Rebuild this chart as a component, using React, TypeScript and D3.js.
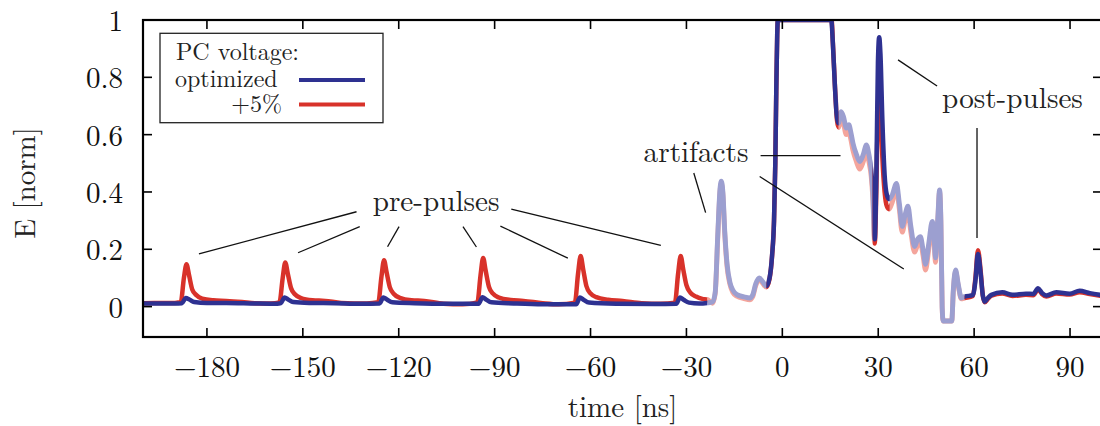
import React from "react";
import * as d3 from "d3";

// ---------- data (time in ns, E normalized) ----------
const prePulseOptimized: [number, number][] = [
  [-200, 0.011], [-190, 0.011], [-187.8, 0.012], [-186.6, 0.03], [-185.5, 0.025], [-184, 0.016], [-180, 0.013],
  [-174, 0.013], [-165, 0.011], [-158, 0.01], [-156.9, 0.012], [-155.7, 0.032], [-154.6, 0.025], [-153, 0.016],
  [-148, 0.013], [-140, 0.012], [-132, 0.01], [-126, 0.011], [-124.8, 0.032], [-123.7, 0.025], [-122, 0.015],
  [-115, 0.012], [-105, 0.01], [-95, 0.01], [-93.8, 0.033], [-92.7, 0.025], [-91, 0.015], [-84, 0.011],
  [-75, 0.008], [-64.5, 0.008], [-63.3, 0.032], [-62.2, 0.024], [-60.5, 0.014], [-52, 0.01], [-40, 0.009],
  [-33.2, 0.01], [-32, 0.032], [-30.9, 0.024], [-29.2, 0.014], [-26, 0.011],
];

const prePulsePlus5: [number, number][] = [
  [-200, 0.012], [-190, 0.013], [-188.2, 0.015], [-187.2, 0.1], [-186.4, 0.148], [-185.6, 0.11], [-184.6, 0.06],
  [-183.3, 0.04], [-181.5, 0.028], [-178, 0.022], [-174, 0.02], [-169, 0.016], [-165, 0.012], [-160, 0.011],
  [-157.3, 0.015], [-156.3, 0.1], [-155.5, 0.154], [-154.7, 0.115], [-153.7, 0.065], [-152.4, 0.042],
  [-150.6, 0.03], [-147, 0.022], [-143, 0.02], [-138, 0.013], [-130, 0.011], [-126.4, 0.015], [-125.4, 0.105],
  [-124.6, 0.162], [-123.8, 0.12], [-122.8, 0.068], [-121.5, 0.044], [-119.7, 0.031], [-116, 0.022],
  [-112, 0.02], [-106, 0.01], [-100, 0.008], [-95.4, 0.015], [-94.4, 0.11], [-93.6, 0.17], [-92.8, 0.125],
  [-91.8, 0.07], [-90.5, 0.045], [-88.7, 0.032], [-85, 0.023], [-81, 0.02], [-75, 0.012], [-70, 0.008],
  [-64.9, 0.014], [-63.9, 0.115], [-63.1, 0.177], [-62.3, 0.13], [-61.3, 0.072], [-60, 0.046], [-58.2, 0.033],
  [-54.5, 0.024], [-50, 0.02], [-44, 0.012], [-38, 0.01], [-33.6, 0.014], [-32.6, 0.115], [-31.8, 0.177],
  [-31, 0.13], [-30, 0.075], [-28.7, 0.048], [-27, 0.035], [-25, 0.027],
];

const mainOptimized: [number, number][] = [
  [-23.5, 0.013], [-21.8, 0.016], [-21.0, 0.05], [-20.2, 0.25], [-19.5, 0.41], [-19.1, 0.438], [-18.6, 0.4],
  [-18.0, 0.26], [-17.3, 0.15], [-16.4, 0.085], [-15.5, 0.058], [-14.2, 0.042], [-12, 0.034], [-10.2, 0.03],
  [-9.3, 0.04], [-8.3, 0.08], [-7.2, 0.1], [-6.2, 0.088], [-5.0, 0.072], [-4.0, 0.1], [-3.2, 0.18], [-2.6, 0.3],
  [-2.2, 0.5], [-1.9, 0.75], [-1.6, 0.95], [-1.4, 1.0], [15.3, 1.0], [15.8, 0.92], [16.4, 0.78], [17.0, 0.67],
  [17.6, 0.64], [18.4, 0.68], [19.2, 0.66], [20.0, 0.623], [20.8, 0.635], [21.4, 0.61], [22.1, 0.57],
  [23.2, 0.53], [24.2, 0.506], [25.3, 0.53], [26.3, 0.564], [27.1, 0.53], [27.8, 0.477], [28.3, 0.4],
  [28.9, 0.235], [29.4, 0.45], [29.9, 0.85], [30.3, 0.94], [30.7, 0.88], [31.3, 0.65], [32.0, 0.46],
  [32.7, 0.39], [33.4, 0.375], [34.4, 0.39], [35.7, 0.43], [36.6, 0.36], [37.5, 0.28], [38.4, 0.32],
  [39.3, 0.35], [40.2, 0.28], [41.4, 0.21], [42.3, 0.235], [43.2, 0.244], [44.0, 0.2], [44.8, 0.148],
  [45.8, 0.22], [46.9, 0.297], [47.5, 0.24], [47.9, 0.17], [48.6, 0.3], [49.2, 0.407], [49.6, 0.3],
  [50.0, 0.0], [50.3, -0.05], [53.0, -0.05], [53.5, 0.06], [54.2, 0.128], [55.0, 0.08], [56.0, 0.03],
  [57.0, 0.035], [59.6, 0.04], [60.4, 0.09], [61.2, 0.184], [62.0, 0.12], [62.7, 0.04], [63.3, 0.017],
  [64.3, 0.03], [65.4, 0.041], [68.8, 0.05], [72, 0.041], [76.2, 0.045], [78.5, 0.044], [80, 0.064],
  [81.2, 0.048], [82.6, 0.039], [85.7, 0.05], [89.9, 0.045], [93, 0.055], [96.2, 0.047], [100, 0.04],
];

const mainPlus5: [number, number][] = [
  [-23.5, 0.025], [-21.8, 0.012], [-21.0, 0.045], [-20.2, 0.24], [-19.5, 0.4], [-19.1, 0.43], [-18.6, 0.39],
  [-18.0, 0.25], [-17.3, 0.14], [-16.4, 0.078], [-15.5, 0.05], [-14.2, 0.036], [-12, 0.028], [-10.2, 0.024],
  [-9.3, 0.034], [-8.3, 0.074], [-7.2, 0.094], [-6.2, 0.082], [-5.0, 0.068], [-4.0, 0.097], [-3.2, 0.178],
  [-2.6, 0.3], [-2.2, 0.5], [-1.9, 0.75], [-1.6, 0.95], [-1.4, 1.0], [15.4, 1.0], [15.9, 0.9], [16.5, 0.76],
  [17.1, 0.65], [17.6, 0.625], [18.4, 0.655], [19.2, 0.635], [20.0, 0.6], [20.8, 0.61], [21.4, 0.585],
  [22.1, 0.545], [23.2, 0.505], [24.2, 0.48], [25.3, 0.505], [26.3, 0.54], [27.1, 0.505], [27.8, 0.455],
  [28.3, 0.38], [28.9, 0.22], [29.4, 0.4], [29.9, 0.7], [30.3, 0.76], [30.7, 0.7], [31.3, 0.52], [32.0, 0.4],
  [32.7, 0.35], [33.4, 0.34], [34.4, 0.365], [35.7, 0.41], [36.6, 0.34], [37.5, 0.26], [38.4, 0.3],
  [39.3, 0.33], [40.2, 0.26], [41.4, 0.19], [42.3, 0.215], [43.2, 0.225], [44.0, 0.18], [44.8, 0.128],
  [45.8, 0.2], [46.9, 0.277], [47.5, 0.22], [47.9, 0.155], [48.6, 0.29], [49.2, 0.4], [49.6, 0.29],
  [50.0, -0.005], [50.3, -0.05], [53.0, -0.05], [53.5, 0.055], [54.2, 0.122], [55.0, 0.075], [56.0, 0.027],
  [57.0, 0.03], [59.6, 0.037], [60.4, 0.1], [61.2, 0.197], [62.0, 0.13], [62.7, 0.04], [63.3, 0.015],
  [64.3, 0.027], [65.4, 0.038], [68.8, 0.046], [72, 0.037], [76.2, 0.041], [78.5, 0.04], [80, 0.06],
  [81.2, 0.044], [82.6, 0.035], [85.7, 0.046], [89.9, 0.042], [93, 0.05], [96.2, 0.044], [100, 0.037],
];

// time ranges drawn in full colour (rest is drawn faded: artifacts)
const darkRanges: [number, number][] = [[-200, -23.5], [-5.0, 17.6], [28.2, 33.6], [57.0, 100]];

const xTicks = [-180, -150, -120, -90, -60, -30, 0, 30, 60, 90];
const yTicks = [0, 0.2, 0.4, 0.6, 0.8, 1];
const yTickLabels = ["0", "0.2", "0.4", "0.6", "0.8", "1"];

const seriesNames = ["optimized", "+5%"];

// annotation leader lines in data coordinates [t1, v1, t2, v2]
const prePulseLeaders: [number, number, number, number][] = [
  [-182.5, 0.184, -133.2, 0.331],
  [-151.5, 0.188, -132.2, 0.279],
  [-123.5, 0.209, -119.9, 0.279],
  [-99.9, 0.279, -95.7, 0.208],
  [-88.2, 0.281, -67.1, 0.169],
  [-84.8, 0.34, -38.0, 0.214],
];
const artifactLeaders: [number, number, number, number][] = [
  [-6.8, 0.527, 18.2, 0.527],
  [-27.7, 0.466, -24.0, 0.328],
  [-7.1, 0.454, 38.0, 0.131],
];
const postPulseLeaders: [number, number, number, number][] = [
  [36.2, 0.861, 48.4, 0.77],
  [60.9, 0.623, 60.9, 0.239],
];
const annotations = [
  { text: "pre-pulses", t: -108.3, v: 0.332 },
  { text: "artifacts", t: -27.0, v: 0.506 },
  { text: "post-pulses", t: 72.0, v: 0.692 },
];

// ---------- layout ----------
const W = 1100, H = 426;
const L = 143, R = 1102, T = 20, B = 337;
const BLUE = "#2e3191", RED = "#d8322a", BLUE_L = "#9c9fd0", RED_L = "#f4a59c";
const FONT = '"Latin Modern Roman", "Liberation Serif", serif';

export default function App() {
  const x = d3.scaleLinear().domain([-200, 100]).range([L, R]);
  const y = d3.scaleLinear().domain([-0.106, 1]).range([B, T]);
  const line = d3.line<[number, number]>().x(d => x(d[0])).y(d => y(d[1])).curve(d3.curveMonotoneX);

  const optimized = [...prePulseOptimized, ...mainOptimized];
  const plus5 = [...prePulsePlus5, ...mainPlus5];

  const lightRanges: [number, number][] = [];
  let prev = -200;
  darkRanges.forEach(([a, b]) => {
    if (a > prev) lightRanges.push([prev, a]);
    prev = b;
  });
  if (prev < 100) lightRanges.push([prev, 100]);

  const lw = 4.5;
  const leader = (l: [number, number, number, number], i: number) => (
    <line key={i} x1={x(l[0])} y1={y(l[1])} x2={x(l[2])} y2={y(l[3])} stroke="#111" strokeWidth={1.3} />
  );
  const txt = { fontFamily: FONT };

  return (
    <svg width={W} height={H} style={{ position: "absolute", left: 0, top: 0, background: "#fff" }}>
      <defs>
        <clipPath id="plot"><rect x={L} y={T} width={R - L} height={B - T} /></clipPath>
        <clipPath id="dark">
          {darkRanges.map(([a, b], i) => (
            <rect key={i} x={x(a)} y={T - 10} width={x(b) - x(a)} height={B - T + 20} />
          ))}
        </clipPath>
        <clipPath id="light">
          {lightRanges.map(([a, b], i) => (
            <rect key={i} x={x(a)} y={T - 10} width={x(b) - x(a)} height={B - T + 20} />
          ))}
        </clipPath>
      </defs>

      <g clipPath="url(#plot)">
        <g clipPath="url(#light)">
          <path d={line(plus5) || ""} fill="none" stroke={RED_L} strokeWidth={lw + 0.4} strokeLinejoin="round" />
          <path d={line(optimized) || ""} fill="none" stroke={BLUE_L} strokeWidth={lw + 0.4} strokeLinejoin="round" />
        </g>
        <g clipPath="url(#dark)">
          <path d={line(plus5) || ""} fill="none" stroke={RED} strokeWidth={lw} strokeLinejoin="round" />
          <path d={line(optimized) || ""} fill="none" stroke={BLUE} strokeWidth={lw} strokeLinejoin="round" />
        </g>
      </g>

      {/* annotations */}
      <g>
        {prePulseLeaders.map(leader)}
        {artifactLeaders.map(leader)}
        {postPulseLeaders.map(leader)}
        {annotations.map(a => (
          <text key={a.text} x={x(a.t)} y={y(a.v)} textAnchor="middle" fontSize={29.2} fill="#222" style={txt}>{a.text}</text>
        ))}
      </g>

      {/* frame and ticks */}
      <rect x={L} y={T} width={R - L} height={B - T} fill="none" stroke="#000" strokeWidth={2.2} />
      {xTicks.map(t => (
        <g key={t}>
          <line x1={x(t)} x2={x(t)} y1={B} y2={B - 9} stroke="#000" strokeWidth={1.6} />
          <line x1={x(t)} x2={x(t)} y1={T} y2={T + 9} stroke="#000" strokeWidth={1.6} />
          <text x={x(t)} y={B + 40} textAnchor="middle" fontSize={29} fill="#111" style={txt}>
            {t < 0 ? "\u2212" + Math.abs(t) : String(t)}
          </text>
        </g>
      ))}
      {yTicks.map((v, i) => (
        <g key={v}>
          <line x1={L} x2={L + 9} y1={y(v)} y2={y(v)} stroke="#000" strokeWidth={1.6} />
          <line x1={R - 9} x2={R} y1={y(v)} y2={y(v)} stroke="#000" strokeWidth={1.6} />
          <text x={123} y={y(v) + 11} textAnchor="end" fontSize={29} fill="#111" style={txt}>{yTickLabels[i]}</text>
        </g>
      ))}

      {/* axis titles */}
      <text x={(L + R) / 2} y={417} textAnchor="middle" fontSize={29} fill="#222" style={txt}>time [ns]</text>
      <text transform={`translate(35,183) rotate(-90)`} textAnchor="middle" fontSize={29} fill="#222" style={txt}>E [norm]</text>

      {/* legend */}
      <g>
        <rect x={160} y={33.3} width={223} height={89.4} fill="#fff" stroke="#222" strokeWidth={1.3} />
        <text x={176} y={60} fontSize={24} fill="#222" style={txt}>PC voltage:</text>
        <text x={175} y={86.5} fontSize={24} fill="#222" style={txt}>{seriesNames[0]}</text>
        <text x={282} y={112} textAnchor="end" fontSize={24} fill="#222" style={txt}>{seriesNames[1]}</text>
        <line x1={299} x2={365} y1={80} y2={80} stroke={BLUE} strokeWidth={4} />
        <line x1={299} x2={365} y1={104.5} y2={104.5} stroke={RED} strokeWidth={4} />
      </g>
    </svg>
  );
}
